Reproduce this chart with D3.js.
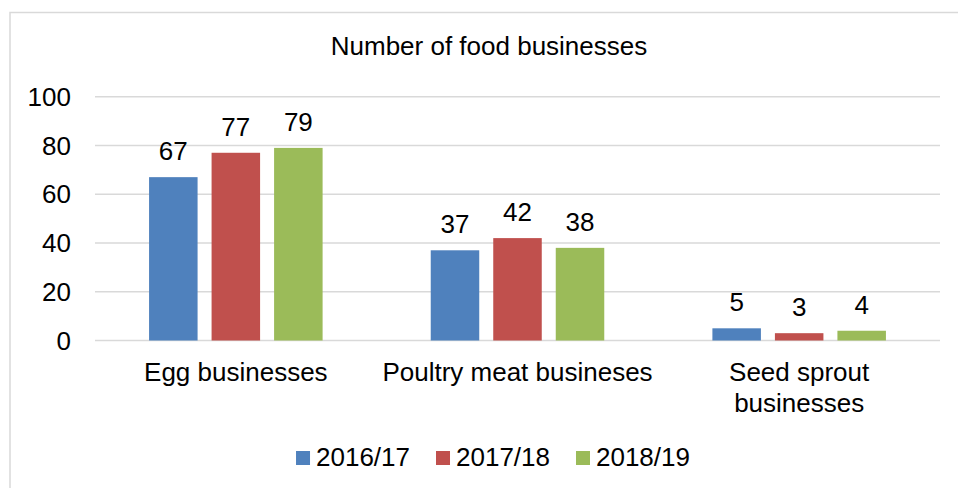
<!DOCTYPE html>
<html>
<head>
<meta charset="UTF-8">
<title>Number of food businesses</title>
<script src="https://cdn.jsdelivr.net/npm/d3@7"></script>
<style>
  body { margin: 0; background: #fff; }
  svg { display: block; font-family: "Liberation Sans", Arial, sans-serif; }
  .grid line { stroke: #d9d9d9; stroke-width: 1.5; }
  .lbl { font-size: 26px; fill: #000; }
</style>
</head>
<body>
<script>
// data ("\n" marks where Excel wrapped the axis label)
var categories = ["Egg businesses", "Poultry meat busineses", "Seed sprout\nbusinesses"];
var seriesNames = ["2016/17", "2017/18", "2018/19"];
var values2016 = [67, 37, 5];
var values2017 = [77, 42, 3];
var values2018 = [79, 38, 4];
var colors = ["#4f81bd", "#c0504d", "#9bbb59"];
var yTicks = [0, 20, 40, 60, 80, 100];

var allValues = [values2016, values2017, values2018];

var width = 958, height = 488;
var svg = d3.select("body").append("svg")
    .attr("width", width)
    .attr("height", height);

// chart border
svg.append("rect")
    .attr("x", 10).attr("y", 12.5)
    .attr("width", 960).attr("height", 500)
    .attr("fill", "#fff")
    .attr("stroke", "#d9d9d9")
    .attr("stroke-width", 1.5);

svg.append("text")
    .attr("class", "lbl")
    .attr("x", 489).attr("y", 55)
    .attr("text-anchor", "middle")
    .text("Number of food businesses");

var plotLeft = 95, plotRight = 940;
var y = d3.scaleLinear().domain([0, 100]).range([340.5, 96.7]);
var x0 = d3.scaleBand().domain(categories).range([plotLeft, plotRight]).padding(0);
var x1 = d3.scaleBand().domain(seriesNames).range([0, x0.bandwidth()])
    .paddingInner(0.224).paddingOuter(0.865);

// gridlines
var grid = svg.append("g").attr("class", "grid");
grid.selectAll("line")
    .data(yTicks)
  .enter().append("line")
    .attr("x1", plotLeft).attr("x2", plotRight)
    .attr("y1", function(d) { return y(d); })
    .attr("y2", function(d) { return y(d); });

// y tick labels
svg.append("g").selectAll("text")
    .data(yTicks)
  .enter().append("text")
    .attr("class", "lbl")
    .attr("x", 71)
    .attr("y", function(d) { return y(d); })
    .attr("dy", "0.35em")
    .attr("text-anchor", "end")
    .text(function(d) { return d; });

// bars
var rows = [];
categories.forEach(function(c, i) {
  seriesNames.forEach(function(s, j) {
    rows.push({cat: c, series: s, value: allValues[j][i], color: colors[j]});
  });
});

svg.append("g").selectAll("rect")
    .data(rows)
  .enter().append("rect")
    .attr("x", function(d) { return x0(d.cat) + x1(d.series); })
    .attr("y", function(d) { return y(d.value); })
    .attr("width", x1.bandwidth())
    .attr("height", function(d) { return y(0) - y(d.value); })
    .attr("fill", function(d) { return d.color; });

// value labels
svg.append("g").selectAll("text")
    .data(rows)
  .enter().append("text")
    .attr("class", "lbl")
    .attr("x", function(d) { return x0(d.cat) + x1(d.series) + x1.bandwidth() / 2; })
    .attr("y", function(d) { return y(d.value) - 17; })
    .attr("text-anchor", "middle")
    .text(function(d) { return d.value; });

// category labels
svg.append("g").selectAll("text")
    .data(categories)
  .enter().append("text")
    .attr("class", "lbl")
    .attr("y", 381)
    .attr("text-anchor", "middle")
    .each(function(d) {
      var t = d3.select(this);
      var cx = x0(d) + x0.bandwidth() / 2;
      d.split("\n").forEach(function(line, k) {
        t.append("tspan")
          .attr("x", cx)
          .attr("dy", k === 0 ? 0 : 31)
          .text(line);
      });
    });

// legend
var legend = svg.append("g");
var items = legend.selectAll("g")
    .data(seriesNames)
  .enter().append("g");
items.append("rect")
    .attr("width", 14).attr("height", 14)
    .attr("y", 451)
    .attr("fill", function(d, i) { return colors[i]; });
items.append("text")
    .attr("class", "lbl")
    .attr("x", 20)
    .attr("y", 466)
    .text(function(d) { return d; });

var pos = 0, offsets = [];
items.each(function() {
  offsets.push(pos);
  pos += 20 + this.querySelector("text").getComputedTextLength() + 26;
});
var total = pos - 26;
var startX = 493 - total / 2;
items.attr("transform", function(d, i) { return "translate(" + (startX + offsets[i]) + ",0)"; });
</script>
</body>
</html>
